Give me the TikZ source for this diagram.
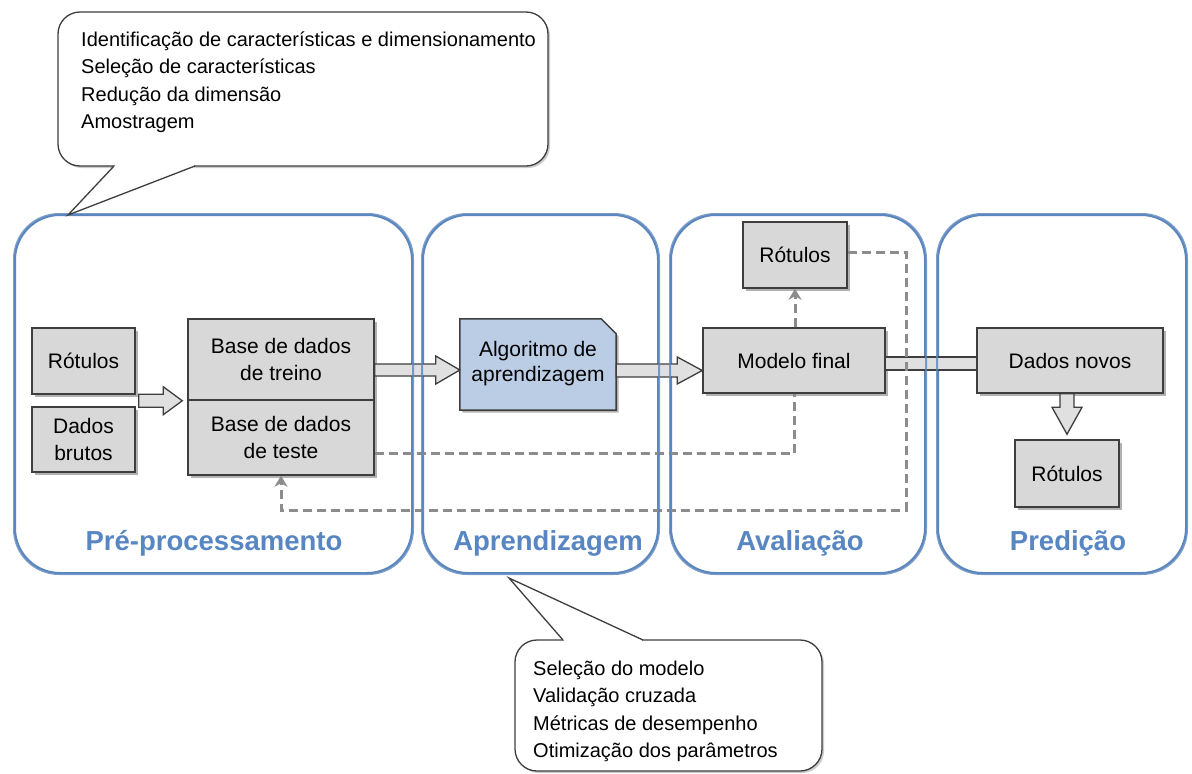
\documentclass[tikz,border=0pt]{standalone}
\usepackage{fontspec}
\setmainfont{Liberation Sans}
\usetikzlibrary{arrows.meta,shadows,calc}
\definecolor{panelblue}{RGB}{92,134,190}
\definecolor{labelblue}{RGB}{88,134,194}
\definecolor{boxgray}{RGB}{216,216,216}
\definecolor{boxline}{RGB}{62,62,62}
\definecolor{algblue}{RGB}{186,205,229}
\definecolor{dashgray}{RGB}{140,140,140}
\definecolor{arrowfill}{RGB}{224,224,224}
\newcommand\harrowR[5]{\draw[harrow] let \p1=(#1), \p2=(#2) in (\x1,\y1+#3) -- (\x2-#5,\y1+#3) -- (\x2-#5,\y1+#4) -- (\x2,\y1) -- (\x2-#5,\y1-#4) -- (\x2-#5,\y1-#3) -- (\x1,\y1-#3) -- cycle;}
\newcommand\harrowD[5]{\draw[harrow] let \p1=(#1), \p2=(#2) in (\x1-#3,\y1) -- (\x1-#3,\y2+#5) -- (\x1-#4,\y2+#5) -- (\x1,\y2) -- (\x1+#4,\y2+#5) -- (\x1+#3,\y2+#5) -- (\x1+#3,\y1) -- cycle;}
\newcommand\hollowbar[3]{\draw[harrow] let \p1=(#1), \p2=(#2) in (\x1,\y1+#3) rectangle (\x2,\y1-#3);}
\begin{document}
\begin{tikzpicture}[x=1pt,y=-1pt,
  panel/.style={draw=panelblue, line width=2pt, rounded corners=45pt, inner sep=0pt},
  panellabel/.style={text=labelblue, font=\fontsize{27.5}{32}\selectfont\bfseries},
  shade/.style={drop shadow={shadow xshift=2.5pt, shadow yshift=-2.5pt, opacity=0.3, fill=black}},
  box/.style={draw=boxline, line width=1.5pt, fill=boxgray, inner sep=0pt, align=center,
    font=\fontsize{21}{26.5}\selectfont, shade},
  harrow/.style={draw=boxline, line width=1.3pt, fill=arrowfill, line join=miter},
  dashline/.style={draw=dashgray, line width=3pt, dash pattern=on 9pt off 5pt},
  dashtip/.style={-{Stealth[length=11pt,width=13pt]}},
  calloutbox/.style={draw=boxline, line width=1.3pt, fill=white, rounded corners=22pt, inner sep=0pt,
    drop shadow={shadow xshift=2pt, shadow yshift=-2pt, opacity=0.2, fill=black}},
  calloutline/.style={draw=boxline, line width=1.3pt, line join=miter},
  callouttext/.style={inner sep=0pt, align=left, font=\fontsize{20}{27.5}\selectfont}
]
\useasboundingbox (0,0) rectangle (1192,774);
\fill[white] (0,0) rectangle (1192,774);

% panels
\node[panel, fill=white, minimum width=397pt, minimum height=358pt] (p1) at (213.5,394) {};
\node[panel, fill=white, minimum width=235pt, minimum height=358pt] (p2) at (540.5,394) {};
\node[panel, fill=white, minimum width=254pt, minimum height=358pt] (p3) at (798,394) {};
\node[panel, fill=white, minimum width=248pt, minimum height=358pt] (p4) at (1062,394) {};

\node[panellabel] (l1) at (214,543) {Pré-processamento};
\node[panellabel] (l2) at (548,543) {Aprendizagem};
\node[panellabel] (l3) at (800,543) {Avaliação};
\node[panellabel] (l4) at (1068,543) {Predição};

% boxes
\node[box, minimum width=103pt, minimum height=66pt] (rot1) at (83.5,361) {Rótulos};
\node[box, minimum width=103pt, minimum height=65pt] (brutos) at (83.5,439.5) {Dados\\brutos};
\node[box, minimum width=186pt, minimum height=81pt] (train) at (281,359.5) {Base de dados\\de treino};
\node[box, minimum width=186pt, minimum height=75pt] (test) at (281,437.5) {Base de dados\\de teste};
\node[inner sep=0pt, minimum width=156pt, minimum height=91pt] (alg) at (538,364.5) {};
\path[draw=boxline, line width=1.5pt, fill=algblue, shade]
  (alg.north west) -- ([xshift=-15pt]alg.north east) -- ([yshift=-15pt]alg.north east)
  -- (alg.south east) -- (alg.south west) -- cycle;
\node[align=center, font=\fontsize{21}{25}\selectfont] (algt) at ([yshift=1pt]alg.center) {Algoritmo de\\aprendizagem};
\node[box, minimum width=104pt, minimum height=66pt] (rot2) at (795,255) {Rótulos};
\node[box, minimum width=182pt, minimum height=65pt] (modelo) at (794,360.5) {Modelo final};
\node[box, minimum width=186pt, minimum height=65pt] (dnovos) at (1070,360.5) {Dados novos};
\node[box, minimum width=104pt, minimum height=67pt] (rot3) at (1067,473.5) {Rótulos};

% hollow arrows
\coordinate (a0s) at ([xshift=3pt]rot1.south east);
\coordinate (a0e) at ([xshift=-5pt]train.south west);
\harrowR{a0s |- train.south}{a0e}{6.5pt}{14pt}{19pt}
\coordinate (a1s) at ([yshift=-10.5pt]train.east);
\coordinate (a1e) at (a1s -| alg.west);
\harrowR{a1s}{a1e}{6pt}{14pt}{24pt}
\coordinate (a2s) at ([yshift=-6pt]alg.east);
\coordinate (a2e) at (a2s -| modelo.west);
\harrowR{a2s}{a2e}{6.5pt}{13.5pt}{25pt}
\coordinate (a3s) at ([yshift=-3pt]modelo.east);
\coordinate (a3e) at (a3s -| dnovos.west);
\hollowbar{a3s}{a3e}{6.5pt}
\coordinate (a4s) at (rot3.north |- dnovos.south);
\coordinate (a4e) at ([yshift=5pt]rot3.north);
\harrowD{a4s}{a4e}{7pt}{15pt}{27pt}

% dashed connectors
\draw[dashline] ([yshift=-16pt]test.east) -| (modelo.south);
\draw[dashline, dashtip] (rot2.south |- modelo.north) -- (rot2.south);
\coordinate (dc) at (906,510);
\draw[dashline, dashtip] ([yshift=3pt]rot2.east) -| (dc) -| (test.south);

% panel outlines on top
\foreach \p in {p1,p2,p3,p4}{
  \draw[panelblue, line width=2pt, rounded corners=45pt, opacity=0.8] (\p.north west) rectangle (\p.south east);
}

% top callout
\node[calloutbox, minimum width=490pt, minimum height=154pt] (c1) at (303,89) {};
\fill[white] (114,166) -- (68,215) -- (195,166) -- cycle;
\draw[white, line width=3pt] (115,166) -- (194,166);
\coordinate (c1tip) at (68,215);
\draw[calloutline] (114,166) -- (c1tip) -- (195,166);
\node[callouttext, anchor=north west] (c1t) at (81,31.5) {Identificação de características e dimensionamento\\Seleção de características\\Redução da dimensão\\Amostragem};

% bottom callout
\node[calloutbox, minimum width=307pt, minimum height=131pt] (c2) at (668.5,705.5) {};
\fill[white] (563,640) -- (509,578) -- (643,640) -- cycle;
\draw[white, line width=3pt] (564,640) -- (642,640);
\coordinate (c2tip) at (509,578);
\draw[calloutline] (563,640) -- (c2tip) -- (643,640);
\node[callouttext, anchor=north west] (c2t) at (533,660.5) {Seleção do modelo\\Validação cruzada\\Métricas de desempenho\\Otimização dos parâmetros};
\end{tikzpicture}
\end{document}
